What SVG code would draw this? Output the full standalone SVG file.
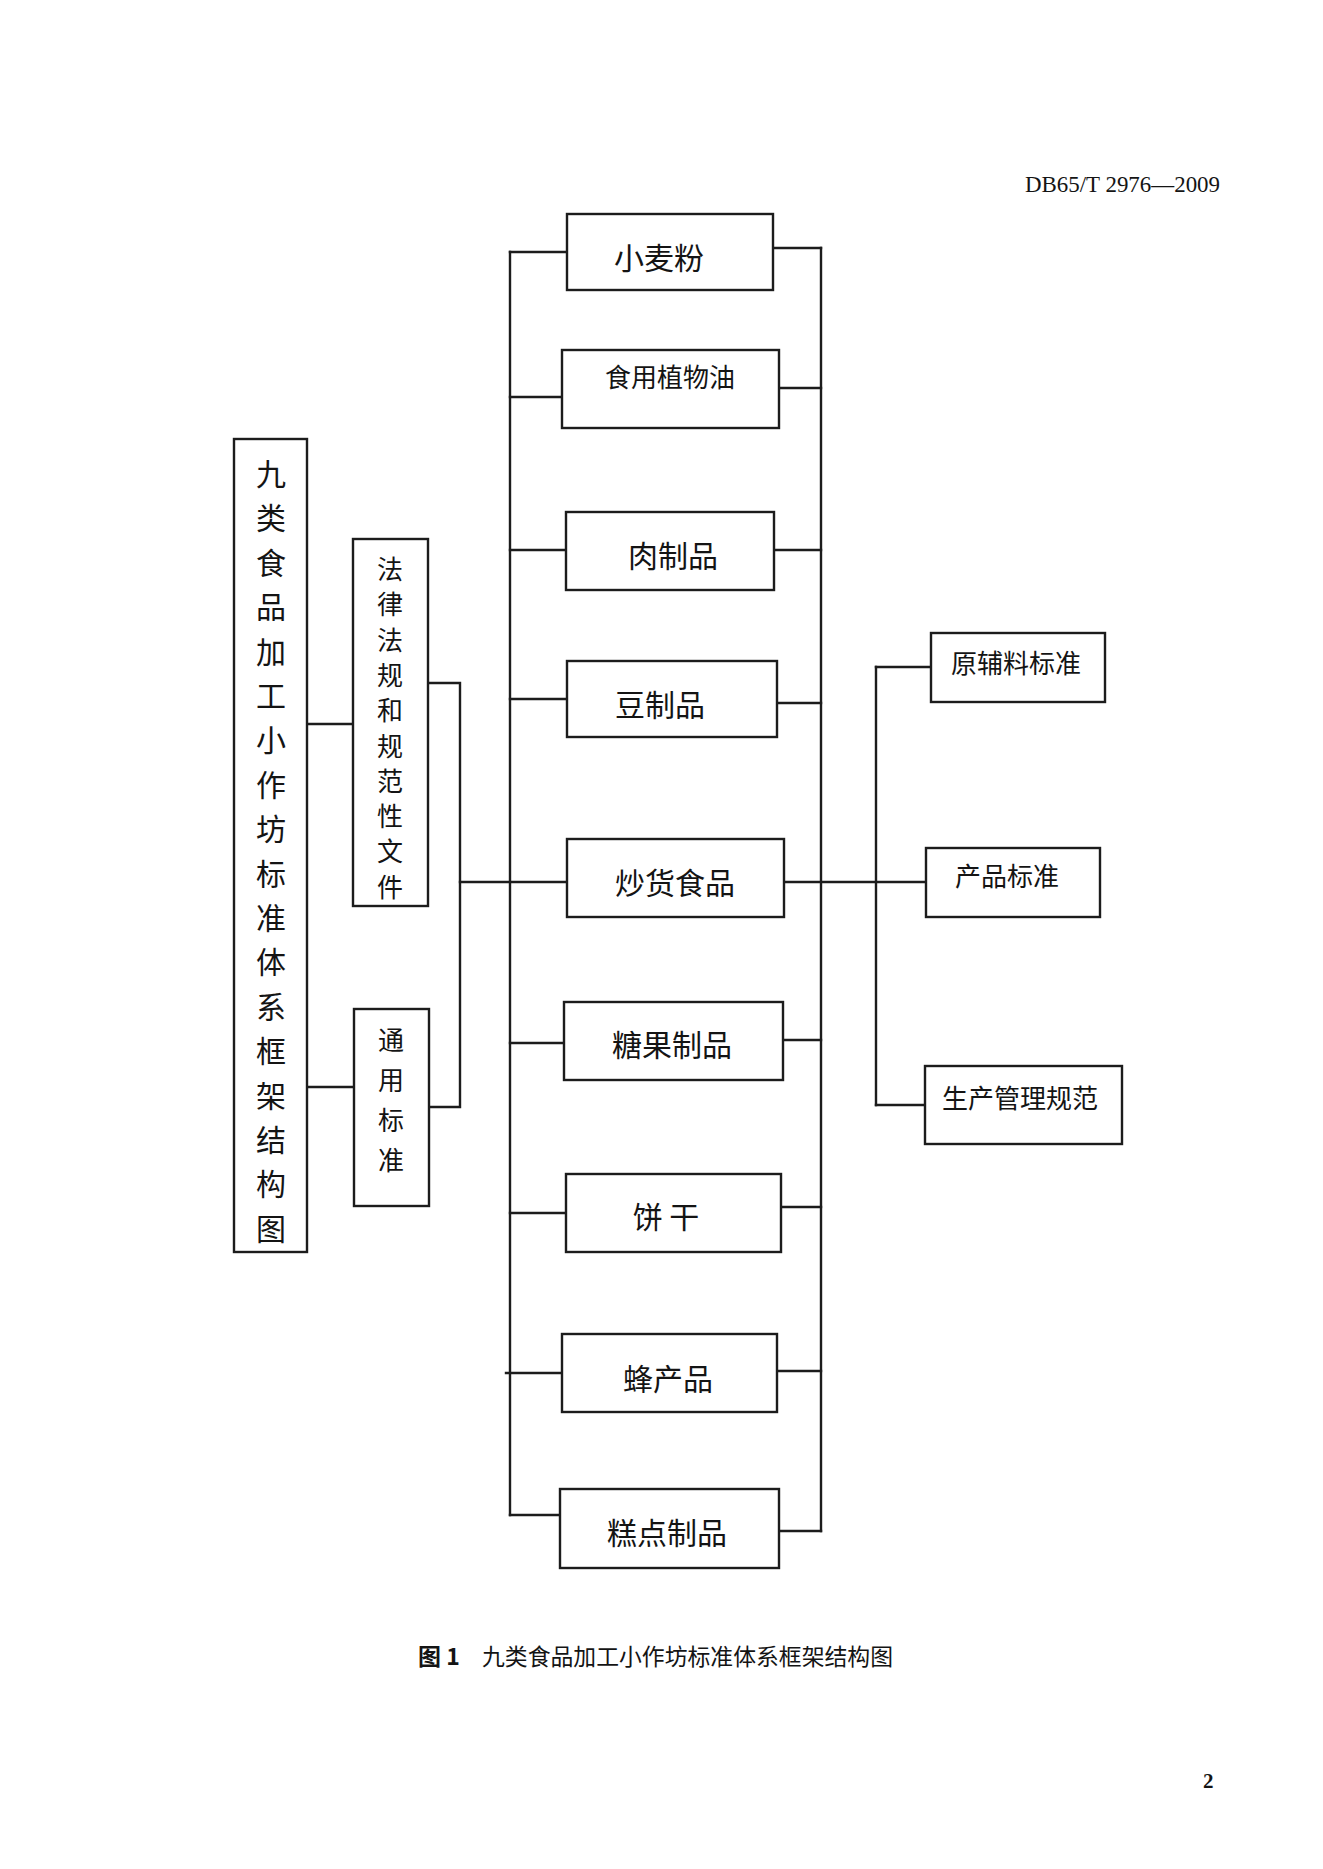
<svg xmlns="http://www.w3.org/2000/svg" width="1323" height="1869" viewBox="0 0 1323 1869">
<style>
.box{fill:#fff;stroke:#1c1c1c;stroke-width:2.4}
.conn{fill:none;stroke:#1c1c1c;stroke-width:2.4;stroke-linecap:square}
.t{font-family:"Noto Sans CJK SC","Noto Sans",sans-serif;fill:#141414;text-anchor:middle;dominant-baseline:central}
.m{font-size:30px}
.s{font-size:26px}
.v{font-size:30px}
.v2{font-size:26px}
.hdr{font-family:"Liberation Serif",serif;font-size:24px;fill:#141414}
.cap{font-family:"Noto Sans CJK SC",sans-serif;font-size:23px;fill:#141414;dominant-baseline:central}
</style>
<rect width="1323" height="1869" fill="#fff"/>
<text class="hdr" x="1025" y="192" textLength="195" lengthAdjust="spacingAndGlyphs">DB65/T 2976—2009</text>

<g id="connectors">
<path class="conn" d="M307 724 H353"/>
<path class="conn" d="M307 1087 H354"/>
<path class="conn" d="M428 683 H460 V1107 H429"/>
<path class="conn" d="M460 882 H568"/>
<path class="conn" d="M510 252 V1515"/>
<path class="conn" d="M510 252 H567"/>
<path class="conn" d="M510 397 H562"/>
<path class="conn" d="M510 550 H566"/>
<path class="conn" d="M510 699 H567"/>
<path class="conn" d="M510 1043 H564"/>
<path class="conn" d="M510 1213 H566"/>
<path class="conn" d="M506 1373 H562"/>
<path class="conn" d="M510 1515 H560"/>
<path class="conn" d="M821 248 V1531"/>
<path class="conn" d="M773 248 H821"/>
<path class="conn" d="M779 388 H821"/>
<path class="conn" d="M774 550 H821"/>
<path class="conn" d="M777 703 H821"/>
<path class="conn" d="M784 882 H926"/>
<path class="conn" d="M783 1040 H821"/>
<path class="conn" d="M781 1207 H821"/>
<path class="conn" d="M777 1371 H821"/>
<path class="conn" d="M779 1531 H821"/>
<path class="conn" d="M876 667 V1105"/>
<path class="conn" d="M876 667 H931"/>
<path class="conn" d="M876 1105 H925"/>
</g>

<g id="root">
<rect class="box" x="234" y="439" width="73" height="813"/>
<text class="t v" x="271">
<tspan x="271" y="472">九</tspan><tspan x="271" y="516.4">类</tspan><tspan x="271" y="560.8">食</tspan><tspan x="271" y="605.2">品</tspan><tspan x="271" y="649.6">加</tspan><tspan x="271" y="694">工</tspan><tspan x="271" y="738.4">小</tspan><tspan x="271" y="782.8">作</tspan><tspan x="271" y="827.2">坊</tspan><tspan x="271" y="871.6">标</tspan><tspan x="271" y="916">准</tspan><tspan x="271" y="960.4">体</tspan><tspan x="271" y="1004.8">系</tspan><tspan x="271" y="1049.2">框</tspan><tspan x="271" y="1093.6">架</tspan><tspan x="271" y="1138">结</tspan><tspan x="271" y="1182.4">构</tspan><tspan x="271" y="1226.8">图</tspan>
</text>
</g>

<g id="laws">
<rect class="box" x="353" y="539" width="75" height="367"/>
<text class="t v2">
<tspan x="390" y="567">法</tspan><tspan x="390" y="602.3">律</tspan><tspan x="390" y="637.6">法</tspan><tspan x="390" y="672.9">规</tspan><tspan x="390" y="708.2">和</tspan><tspan x="390" y="743.5">规</tspan><tspan x="390" y="778.8">范</tspan><tspan x="390" y="814.1">性</tspan><tspan x="390" y="849.4">文</tspan><tspan x="390" y="884.7">件</tspan>
</text>
</g>

<g id="general">
<rect class="box" x="354" y="1009" width="75" height="197"/>
<text class="t v2">
<tspan x="391" y="1038">通</tspan><tspan x="391" y="1078">用</tspan><tspan x="391" y="1118">标</tspan><tspan x="391" y="1158">准</tspan>
</text>
</g>

<g id="wheat">
<rect class="box" x="567" y="214" width="206" height="76"/>
<text class="t m" x="659" y="256">小麦粉</text>
</g>
<g id="oil">
<rect class="box" x="562" y="350" width="217" height="78"/>
<text class="t s" x="670" y="375">食用植物油</text>
</g>
<g id="meat">
<rect class="box" x="566" y="512" width="208" height="78"/>
<text class="t m" x="673" y="554">肉制品</text>
</g>
<g id="bean">
<rect class="box" x="567" y="661" width="210" height="76"/>
<text class="t m" x="660" y="703">豆制品</text>
</g>
<g id="roasted">
<rect class="box" x="567" y="839" width="217" height="78"/>
<text class="t m" x="675" y="881">炒货食品</text>
</g>
<g id="candy">
<rect class="box" x="564" y="1002" width="219" height="78"/>
<text class="t m" x="672" y="1043">糖果制品</text>
</g>
<g id="biscuit">
<rect class="box" x="566" y="1174" width="215" height="78"/>
<text class="t m" x="666" y="1215">饼  干</text>
</g>
<g id="bee">
<rect class="box" x="562" y="1334" width="215" height="78"/>
<text class="t m" x="668" y="1377">蜂产品</text>
</g>
<g id="pastry">
<rect class="box" x="560" y="1489" width="219" height="79"/>
<text class="t m" x="667" y="1531">糕点制品</text>
</g>

<g id="raw">
<rect class="box" x="931" y="633" width="174" height="69"/>
<text class="t s" x="1016" y="661">原辅料标准</text>
</g>
<g id="product">
<rect class="box" x="926" y="848" width="174" height="69"/>
<text class="t s" x="1007" y="874">产品标准</text>
</g>
<g id="gmp">
<rect class="box" x="925" y="1066" width="197" height="78"/>
<text class="t s" x="1020" y="1096">生产管理规范</text>
</g>

<g id="caption">
<text class="cap" x="418" y="1655" font-weight="bold">图 1</text>
<text class="cap" x="482" y="1655" textLength="411" lengthAdjust="spacingAndGlyphs">九类食品加工小作坊标准体系框架结构图</text>
</g>
<text x="1203" y="1788" font-family="Liberation Serif,serif" font-size="21" font-weight="bold" fill="#141414">2</text>
</svg>
